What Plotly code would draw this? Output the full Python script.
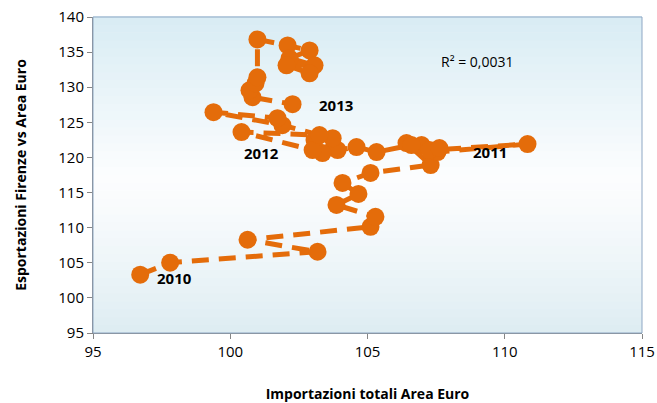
import plotly.graph_objects as go

# Monthly trajectory 2010-2013
import_euro = [96.72, 97.81, 103.18, 100.63, 105.11, 105.29, 103.87, 104.67, 104.09, 105.11, 107.30, 106.42,
               106.97, 107.55, 110.83, 107.26, 107.62, 106.60, 105.33, 104.60, 103.91, 103.73, 103.36, 103.07,
               103.00, 100.41, 103.25, 101.90, 99.39, 101.72, 102.27, 100.81, 100.70, 100.92, 100.99, 100.99,
               102.09, 102.89, 102.16, 103.07, 102.05, 102.89]
export_firenze = [103.31, 105.01, 106.57, 108.28, 110.12, 111.54, 113.24, 114.80, 116.37, 117.79, 118.92, 122.04,
                  121.76, 120.77, 121.90, 121.05, 121.33, 121.76, 120.77, 121.48, 121.05, 122.75, 120.62, 122.47,
                  121.05, 123.61, 123.18, 124.60, 126.44, 125.59, 127.58, 128.57, 129.57, 130.56, 131.41, 136.81,
                  135.95, 135.24, 134.11, 133.12, 133.12, 131.98]

year_labels = ["2010", "2011", "2012", "2013"]
year_label_x = [97.97, 109.45, 101.14, 103.87]
year_label_y = [102.9, 120.77, 120.62, 127.44]

r2_text = "R² = 0,0031"
r2_x, r2_y = 109.0, 133.6

x_ticks = [95, 100, 105, 110, 115]
y_ticks = [95, 100, 105, 110, 115, 120, 125, 130, 135, 140]

orange = "#E46C0A"
font_family = "Open Sans, Noto Sans, sans-serif"

fig = go.Figure()
fig.add_trace(go.Scatter(
    x=import_euro, y=export_firenze, mode="lines+markers",
    line=dict(color=orange, width=5, dash="17px,10px"),
    marker=dict(color=orange, size=18),
    showlegend=False, hoverinfo="skip",
))

# gradient background bands (top blue -> white -> bottom blue)
n = 40
top = (216, 236, 244)
mid = (252, 253, 254)
bot = (221, 236, 242)
shapes = []
for i in range(n):
    t = (i + 0.5) / n  # 0 bottom -> 1 top
    if t > 0.5:
        f = (t - 0.5) / 0.5
        c = tuple(round(mid[k] + (top[k] - mid[k]) * f) for k in range(3))
    else:
        f = (0.5 - t) / 0.5
        f = f ** 1.3
        c = tuple(round(mid[k] + (bot[k] - mid[k]) * f) for k in range(3))
    shapes.append(dict(type="rect", xref="x domain", yref="y domain",
                       x0=0, x1=1, y0=i / n, y1=(i + 1) / n + 0.002,
                       fillcolor="rgb(%d,%d,%d)" % c, line=dict(width=0), layer="below"))
shapes.append(dict(type="rect", xref="x domain", yref="y domain", x0=0, x1=1, y0=0, y1=1,
                   line=dict(color="#8EA7C4", width=1), fillcolor="rgba(0,0,0,0)", layer="above"))

annotations = []
for lab, lx, ly in zip(year_labels, year_label_x, year_label_y):
    annotations.append(dict(x=lx, y=ly, text="<b>%s</b>" % lab, showarrow=False,
                            font=dict(family=font_family, size=15, color="black")))
annotations.append(dict(x=r2_x, y=r2_y, text=r2_text, showarrow=False,
                        font=dict(family=font_family, size=14, color="black")))

fig.update_layout(
    width=657, height=403,
    margin=dict(l=93, r=15, t=17, b=70),
    paper_bgcolor="white", plot_bgcolor="white",
    shapes=shapes, annotations=annotations,
    font=dict(family=font_family, size=14, color="black"),
    xaxis=dict(range=[95, 115], tickvals=x_ticks, showgrid=False, zeroline=False, automargin=False,
               showline=True, linecolor="#868686", ticks="outside", ticklen=5, tickcolor="#868686",
               tickfont=dict(size=15),
               title=dict(text="<b>Importazioni totali Area Euro</b>", font=dict(size=14), standoff=29)),
    yaxis=dict(range=[95, 140], tickvals=y_ticks, showgrid=False, zeroline=False, automargin=False,
               showline=True, linecolor="#868686", ticks="outside", ticklen=5, tickcolor="#868686",
               tickfont=dict(size=15),
               title=dict(text="<b>Esportazioni Firenze vs Area Euro</b>", font=dict(size=14), standoff=28)),
)

post = ("document.documentElement.style.overflow='hidden';"
        "document.body.style.margin='0';document.body.style.overflow='hidden';"
        "var g=document.querySelector('.plotly-graph-div');"
        "g.style.position='fixed';g.style.left='0px';g.style.top='0px';")
fig.write_html("out.html", config={"displayModeBar": False}, post_script=post)
